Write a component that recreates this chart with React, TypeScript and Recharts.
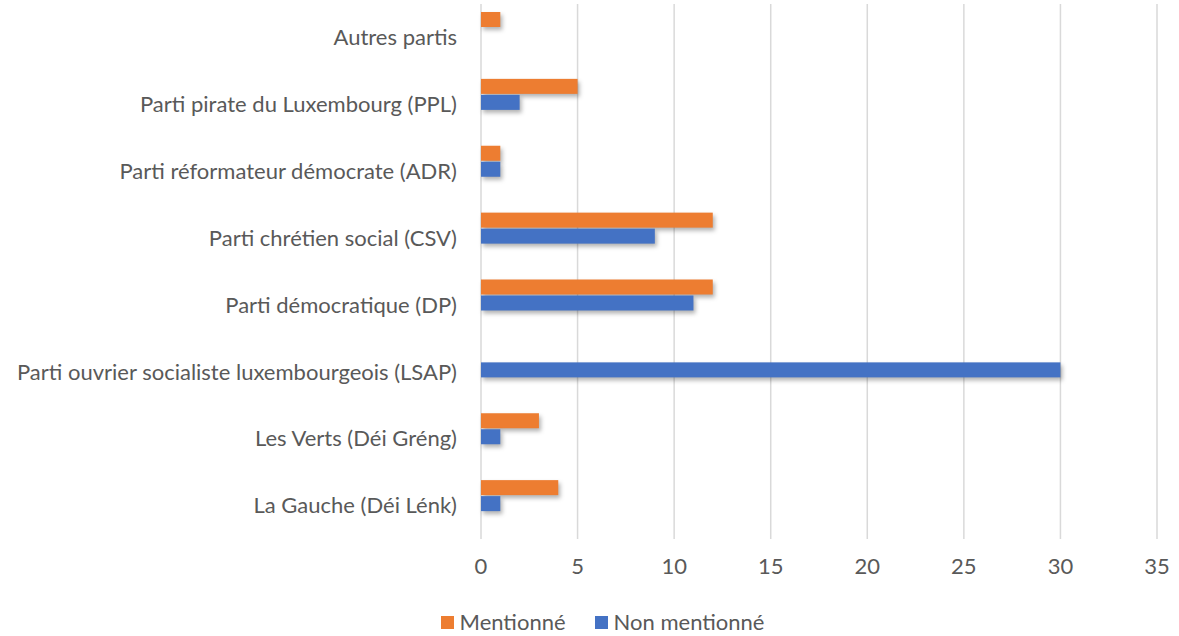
import { Bar, BarChart, CartesianGrid, Legend, XAxis, YAxis } from "recharts";

const parties = [
  "Autres partis",
  "Parti pirate du Luxembourg (PPL)",
  "Parti réformateur démocrate (ADR)",
  "Parti chrétien social (CSV)",
  "Parti démocratique (DP)",
  "Parti ouvrier socialiste luxembourgeois (LSAP)",
  "Les Verts (Déi Gréng)",
  "La Gauche (Déi Lénk)",
];
const mentionne = [1, 5, 1, 12, 12, 0, 3, 4];
const nonMentionne = [0, 2, 1, 9, 11, 30, 1, 1];
const xTicks = [0, 5, 10, 15, 20, 25, 30, 35];

const data = parties.map((name, i) => ({
  name,
  mentionne: mentionne[i],
  nonMentionne: nonMentionne[i],
}));

const ORANGE = "#ED7D31";
const BLUE = "#4472C4";
const TEXT = "#595959";
const FONT = "Lato, 'Open Sans', sans-serif";

// Excel draws the bar pair a little above the label centre
function ShadowBar(props: any) {
  const { x, y, width, height, fill } = props;
  if (!width || width <= 0) return null;
  return (
    <rect
      x={x}
      y={y - 10}
      width={width}
      height={height}
      fill={fill}
      style={{ filter: "drop-shadow(2px 3px 2px rgba(0,0,0,0.3))" }}
    />
  );
}

function LegendContent({ payload }: any) {
  return (
    <div
      style={{
        display: "flex",
        justifyContent: "center",
        gap: 29,
        fontSize: 22,
        lineHeight: "26px",
        color: TEXT,
        fontFamily: FONT,
        paddingLeft: 48,
      }}
    >
      {(payload || []).map((item: any) => (
        <div key={item.value} style={{ display: "flex", alignItems: "center" }}>
          <span
            style={{
              width: 13,
              height: 13,
              background: item.color,
              marginRight: 6,
              display: "inline-block",
            }}
          />
          {item.value}
        </div>
      ))}
    </div>
  );
}

export default function App() {
  return (
    <div style={{ position: "absolute", left: 0, top: 0, fontFamily: FONT }}>
      <BarChart
        width={1179}
        height={636}
        data={data}
        layout="vertical"
        margin={{ top: 4, right: 22, bottom: 1, left: 0 }}
        barSize={15}
        barGap={1}
      >
        <CartesianGrid horizontal={false} stroke="#D9D9D9" strokeWidth={1.5} />
        <XAxis
          type="number"
          domain={[0, 35]}
          ticks={xTicks}
          axisLine={false}
          tickLine={false}
          tickMargin={13}
          height={70}
          tick={{ fill: TEXT, fontSize: 22, fontFamily: FONT }}
        />
        <YAxis
          type="category"
          dataKey="name"
          width={481}
          axisLine={false}
          tickLine={false}
          tickMargin={18}
          tick={{ fill: TEXT, fontSize: 22, fontFamily: FONT }}
        />
        <Legend verticalAlign="bottom" content={LegendContent} />
        <Bar
          dataKey="mentionne"
          name="Mentionné"
          fill={ORANGE}
          shape={ShadowBar}
          isAnimationActive={false}
        />
        <Bar
          dataKey="nonMentionne"
          name="Non mentionné"
          fill={BLUE}
          shape={ShadowBar}
          isAnimationActive={false}
        />
      </BarChart>
    </div>
  );
}
